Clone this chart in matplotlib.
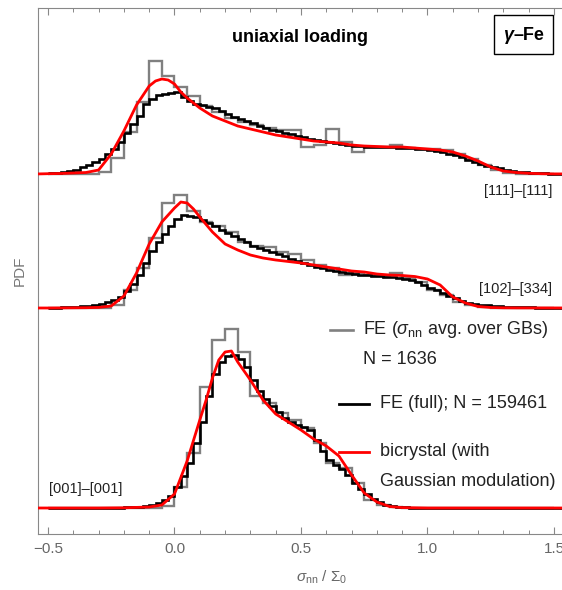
import numpy as np
import matplotlib
matplotlib.use("Agg")
import matplotlib.pyplot as plt
from matplotlib.ticker import MultipleLocator
from matplotlib.patches import Rectangle

plt.rcParams['font.family'] = ['Liberation Sans', 'DejaVu Sans']
plt.rcParams['mathtext.fontset'] = 'custom'
plt.rcParams['mathtext.rm'] = 'Liberation Sans'
plt.rcParams['mathtext.it'] = 'Liberation Sans:italic'
plt.rcParams['mathtext.bf'] = 'Liberation Sans:bold'

# ---- data (PDF in arbitrary units, curves stacked with offsets) ----
panels = ['[111]\u2013[111]', '[102]\u2013[334]', '[001]\u2013[001]']
offsets = [334, 200, 0]

# FE full: fine histogram, bins of 0.025 starting at -0.5
full_x0, full_w = -0.5, 0.025
full_top = [1, 1.5, 2.5, 3.5, 4.5, 7, 9, 12, 15, 20,
            25, 32, 41, 50, 58, 70, 75, 79, 80, 81,
            82, 77, 73, 70, 69, 67, 66, 63, 60, 57,
            55, 53, 51, 48, 46, 44, 43, 41, 40, 38,
            37, 35, 34, 33, 32, 31, 30, 29, 28, 28,
            27, 27, 27, 27, 27, 26, 26, 26, 25, 25,
            24, 23, 22, 20, 19, 17, 14, 12, 10, 8.5,
            7, 6, 4.5, 3.5, 2.5, 2, 1.5, 1, 0.7, 0.5,
            0.3, 0.2]
full_mid = [0.3, 0.5, 0.7, 1, 1.3, 2, 2.5, 3.5, 4.5, 6,
            8, 11, 17, 24, 33, 45, 57, 66, 74, 82,
            89, 93, 92, 91, 88, 85, 82, 78, 75, 72,
            69, 66, 62, 60, 58, 56, 54, 52, 49, 47,
            45, 43, 41, 40, 38, 37, 36, 35, 34, 33,
            33, 32, 32, 31, 31, 30, 29, 28, 26, 23,
            20, 18, 15, 12, 10, 7, 5.5, 4.5, 3.5, 3,
            2.5, 2, 1.5, 1.2, 1, 0.8, 0.6, 0.5, 0.4, 0.3,
            0.2, 0.1]
full_bot = [0, 0, 0, 0.1, 0.1, 0.1, 0.2, 0.2, 0.2, 0.3,
            0.3, 0.5, 0.8, 1, 1.5, 2, 3, 5, 8, 12,
            21, 32, 45, 65, 86, 112, 134, 146, 152, 153,
            149, 141, 128, 117, 109, 102, 96, 90, 86, 83,
            81, 78, 68, 57, 48, 43, 39, 33, 25, 19,
            14, 9, 6, 3.5, 2, 1.2, 0.8, 0.5, 0.3, 0.2,
            0.1, 0, 0, 0, 0, 0, 0, 0, 0, 0,
            0, 0, 0, 0, 0, 0, 0, 0, 0, 0,
            0, 0]

# FE averaged over GBs: coarse histogram, bins of 0.05 starting at -0.5
gb_x0, gb_w = -0.5, 0.05
gb_top = [0, 0, 0, 0, 2, 16, 42, 72, 113, 98,
          87, 78, 68, 62, 56, 52, 49, 46, 44, 44,
          27, 29, 45, 32, 22, 27, 27, 29, 26, 25,
          25, 24, 20, 15, 9, 4, 1, 0, 0, 0]
gb_mid = [0, 0, 0, 0, 0.5, 3, 18, 40, 70, 105,
          113, 97, 86, 82, 76, 66, 62, 61, 56, 54,
          48, 43, 40, 33, 35, 33, 32, 35, 30, 26,
          18, 13, 6, 3, 1, 0.5, 0, 0, 0, 0]
gb_bot = [0, 0, 0, 0, 0, 0, 0, 0, 0, 2,
          21, 55, 121, 168, 179, 156, 112, 105, 95, 88,
          80, 65, 45, 40, 25, 8, 3, 1, 0, 0,
          0, 0, 0, 0, 0, 0, 0, 0, 0, 0]

# bicrystal with Gaussian modulation: smooth curves
bi_top_x = [-0.55, -0.5, -0.45, -0.4, -0.35, -0.3, -0.25, -0.2, -0.15, -0.1,
            -0.075, -0.05, -0.025, 0.0, 0.025, 0.05, 0.1, 0.15, 0.2, 0.25,
            0.3, 0.35, 0.4, 0.45, 0.5, 0.55, 0.6, 0.65, 0.7, 0.75,
            0.8, 0.85, 0.9, 0.95, 1.0, 1.05, 1.1, 1.15, 1.2, 1.25,
            1.3, 1.35, 1.4, 1.45, 1.5, 1.7]
bi_top = [0, 0.3, 0.5, 1, 1.5, 4, 20, 43, 69, 88,
          93, 95, 94, 90, 82, 76, 66, 58, 53, 48,
          45, 42, 39, 37, 35, 33, 32, 31, 29, 28,
          27.5, 27, 27, 26, 25, 24, 22, 18, 13, 7,
          3, 1.5, 0.7, 0.3, 0.1, 0]
bi_mid_x = [-0.55, -0.5, -0.45, -0.4, -0.35, -0.3, -0.25, -0.2, -0.15, -0.1,
            -0.05, 0.0, 0.025, 0.05, 0.075, 0.1, 0.15, 0.2, 0.25, 0.3,
            0.35, 0.4, 0.45, 0.5, 0.55, 0.6, 0.65, 0.7, 0.75, 0.8,
            0.85, 0.9, 0.95, 1.0, 1.05, 1.1, 1.15, 1.2, 1.25, 1.3,
            1.35, 1.7]
bi_mid = [0, 0, 0.1, 0.2, 0.3, 0.6, 2, 12, 35, 64,
          86, 100, 106, 105, 99, 91, 76, 64, 58, 53,
          50, 48, 46.5, 45, 43, 41, 39, 37, 36, 34,
          33, 32.5, 31.5, 29, 23, 11, 5, 1.5, 0.5, 0.2,
          0.1, 0]
bi_bot_x = [-0.55, -0.5, -0.3, -0.2, -0.1, -0.05, 0.0, 0.05, 0.1, 0.125,
            0.15, 0.175, 0.2, 0.225, 0.25, 0.275, 0.3, 0.35, 0.4, 0.45,
            0.5, 0.55, 0.6, 0.65, 0.7, 0.75, 0.8, 0.85, 0.9, 1.0,
            1.7]
bi_bot = [0, 0, 0, 0.2, 1, 3, 14, 47, 88, 108,
          130, 148, 156, 157, 146, 137, 128, 108, 94, 86,
          78, 69, 62, 52, 33, 15, 6, 1.5, 0.4, 0,
          0]

full_all = [full_top, full_mid, full_bot]
gb_all = [gb_top, gb_mid, gb_bot]
bi_all = [(bi_top_x, bi_top), (bi_mid_x, bi_mid), (bi_bot_x, bi_bot)]

GRAY = '#808080'
RED = '#ff0000'

W, H = 562, 590
px_per_unit = 253.0
xmin, xmax = -0.5395, 1.7
ymin, ymax = -26, 500


def fx(px):
    return px / W


def fy(py):
    return 1 - py / H


fig = plt.figure(figsize=(W / 100, H / 100), dpi=100)
ax_w = (xmax - xmin) * px_per_unit
ax = fig.add_axes([fx(38), fy(534), ax_w / W, 526 / H])
ax.set_xlim(xmin, xmax)
ax.set_ylim(ymin, ymax)

for off, full, gb, (bx, by) in zip(offsets, full_all, gb_all, bi_all):
    gb_edges = gb_x0 + gb_w * np.arange(len(gb) + 1)
    ax.stairs(np.array(gb) + off, gb_edges, baseline=None,
              color=GRAY, lw=1.7, zorder=2)
    full_edges = full_x0 + full_w * np.arange(len(full) + 1)
    ax.stairs(np.array(full) + off, full_edges, baseline=None,
              color='black', lw=1.9, zorder=3)
    ax.plot(bx, np.array(by) + off, color=RED, lw=2.0, zorder=4,
            solid_joinstyle='round')

# axes styling (Mathematica-like frame)
for s in ax.spines.values():
    s.set_color('#888888')
    s.set_linewidth(0.8)
ax.set_yticks([])
ax.xaxis.set_major_locator(MultipleLocator(0.5))
ax.xaxis.set_minor_locator(MultipleLocator(0.1))
ax.tick_params(axis='x', which='both', direction='in', top=True,
               color='#888888', labelcolor='#666666', labelsize=11, pad=6)
ax.tick_params(axis='x', which='major', length=5, width=0.8)
ax.tick_params(axis='x', which='minor', length=3, width=0.7)
ax.set_xlabel(r'$\sigma_{\rm nn}$ / $\Sigma_0$', color='#666666',
              fontsize=11, labelpad=9)
ax.set_ylabel('PDF', color='#777777', fontsize=11, labelpad=8)

# annotations
fig.text(fx(300), fy(37), 'uniaxial loading', fontsize=13,
         fontweight='bold', ha='center', va='center')
fig.patches.append(Rectangle((fx(494), fy(54)), 59 / W, 39 / H,
                             transform=fig.transFigure, fill=False,
                             edgecolor='black', lw=1.0))
fig.text(fx(513), fy(35), '\u03b3', fontsize=13, fontweight='bold',
         fontstyle='italic', ha='right', va='center')
fig.text(fx(513), fy(35), '\u2013Fe', fontsize=13, fontweight='bold',
         ha='left', va='center')

fig.text(fx(552), fy(191), panels[0], fontsize=10.5, color='#222222',
         ha='right', va='center')
fig.text(fx(552), fy(289), panels[1], fontsize=10.5, color='#222222',
         ha='right', va='center')
fig.text(fx(49), fy(489), panels[2], fontsize=10.5, color='#222222',
         ha='left', va='center')

# legend drawn by hand
leg_fs = 13
fig.lines.append(plt.Line2D([fx(330), fx(353)], [fy(330), fy(330)],
                            transform=fig.transFigure, color=GRAY, lw=1.9))
fig.text(fx(363), fy(330), r'FE ($\sigma_{\rm nn}$ avg. over GBs)',
         fontsize=leg_fs, color='#222222', ha='left', va='center')
fig.text(fx(363), fy(360), 'N = 1636', fontsize=leg_fs, color='#222222',
         ha='left', va='center')
fig.lines.append(plt.Line2D([fx(339), fx(369)], [fy(404), fy(404)],
                            transform=fig.transFigure, color='black', lw=2.0))
fig.text(fx(380), fy(404), 'FE (full); N = 159461', fontsize=leg_fs,
         color='#222222', ha='left', va='center')
fig.lines.append(plt.Line2D([fx(339), fx(369)], [fy(452), fy(452)],
                            transform=fig.transFigure, color=RED, lw=2.0))
fig.text(fx(380), fy(452), 'bicrystal (with', fontsize=leg_fs,
         color='#222222', ha='left', va='center')
fig.text(fx(380), fy(482), 'Gaussian modulation)', fontsize=leg_fs,
         color='#222222', ha='left', va='center')

fig.savefig('out.png', dpi=100)
